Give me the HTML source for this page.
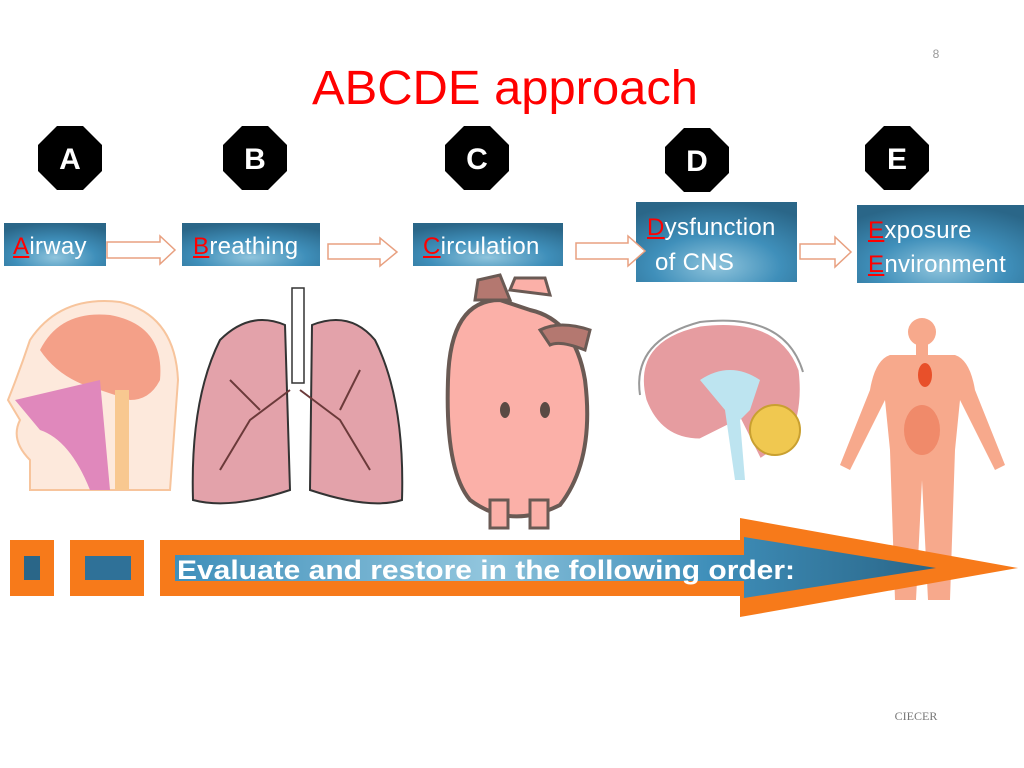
<!DOCTYPE html>
<html><head><meta charset="utf-8"><style>
html,body{margin:0;padding:0;background:#fff}
body{width:1024px;height:768px;position:relative;overflow:hidden;font-family:"Liberation Sans",sans-serif}
.t{position:absolute;color:#fff;font-size:24px;letter-spacing:0.3px}
.r{color:#f00;text-decoration:underline}
</style></head><body>
<svg width="1024" height="768" style="position:absolute;left:0;top:0">
<defs>
<radialGradient id="bg" cx="0.5" cy="0.8" r="0.8">
<stop offset="0" stop-color="#8fc4dc"/><stop offset="0.5" stop-color="#3f8fba"/><stop offset="1" stop-color="#2a6688"/></radialGradient>
<linearGradient id="lg" x1="0" x2="1" y1="0" y2="0">
<stop offset="0" stop-color="#3f8fba"/><stop offset="0.4" stop-color="#8fc4dc"/><stop offset="0.7" stop-color="#3f8fba"/><stop offset="1" stop-color="#2a6688"/></linearGradient>
</defs>
<text x="505" y="104" text-anchor="middle" font-size="48" fill="#f00" font-family="Liberation Sans" textLength="386" lengthAdjust="spacingAndGlyphs">ABCDE approach</text>
<text x="936" y="58" text-anchor="middle" font-size="12" fill="#999" font-family="Liberation Sans">8</text>
<text x="916" y="720" text-anchor="middle" font-size="12" fill="#777" font-family="Liberation Serif">CIECER</text>
<g font-family="Liberation Sans" font-size="30" font-weight="bold" fill="#fff" text-anchor="middle">
<polygon points="57,126 83,126 102,145 102,171 83,190 57,190 38,171 38,145" fill="#000"/><text x="70" y="169">A</text>
<polygon points="242,126 268,126 287,145 287,171 268,190 242,190 223,171 223,145" fill="#000"/><text x="255" y="169">B</text>
<polygon points="464,126 490,126 509,145 509,171 490,190 464,190 445,171 445,145" fill="#000"/><text x="477" y="169">C</text>
<polygon points="684,128 710,128 729,147 729,173 710,192 684,192 665,173 665,147" fill="#000"/><text x="697" y="171">D</text>
<polygon points="884,126 910,126 929,145 929,171 910,190 884,190 865,171 865,145" fill="#000"/><text x="897" y="169">E</text>
</g>
<rect x="4" y="223" width="102" height="43" fill="url(#bg)"/>
<rect x="182" y="223" width="138" height="43" fill="url(#bg)"/>
<rect x="413" y="223" width="150" height="43" fill="url(#bg)"/>
<rect x="636" y="202" width="161" height="80" fill="url(#bg)"/>
<rect x="857" y="205" width="167" height="78" fill="url(#bg)"/>
<g fill="#fff" stroke="#e8a080" stroke-width="1.5">
<polygon points="107,242 160,242 160,236 175,250 160,264 160,258 107,258"/>
<polygon points="328,244 380,244 380,238 397,252 380,266 380,259 328,259"/>
<polygon points="576,243 628,243 628,236 645,251 628,266 628,259 576,259"/>
<polygon points="800,244 835,244 835,237 851,252 835,267 835,259 800,259"/>
</g>
<!-- head -->
<path d="M30,490 L30,460 Q10,440 20,420 L8,400 Q20,370 30,340 Q60,295 120,302 Q175,315 178,380 L170,490 Z" fill="#fde9dc" stroke="#f7c49c" stroke-width="2"/>
<path d="M40,350 Q60,310 110,315 Q165,325 160,380 Q150,400 130,400 L100,390 Q60,380 40,350Z" fill="#f4a088"/>
<path d="M15,400 L100,380 L110,490 L90,490 Q70,440 40,430 Z" fill="#e088bc"/>
<rect x="115" y="390" width="14" height="100" fill="#f8c890"/>
<!-- lungs -->
<path d="M285,325 Q250,310 220,340 Q190,400 193,500 Q230,510 290,490 Z" fill="#e3a2aa" stroke="#333" stroke-width="2"/>
<path d="M312,325 Q350,310 375,340 Q405,400 402,500 Q370,510 310,490 Z" fill="#e3a2aa" stroke="#333" stroke-width="2"/>
<rect x="292" y="288" width="12" height="95" fill="#fff" stroke="#333" stroke-width="1.5"/>
<g stroke="#6b3a3a" stroke-width="2" fill="none">
<path d="M290,390 L250,420 L220,470 M260,410 L230,380 M300,390 L340,420 L370,470 M340,410 L360,370"/>
</g>
<!-- heart -->
<path d="M500,300 Q450,300 448,380 Q445,470 470,500 Q510,530 560,505 Q595,460 585,380 Q575,320 530,310 Z" fill="#fbb0a8" stroke="#6a5a54" stroke-width="4"/>
<path d="M475,300 L478,280 L500,275 L510,300 Z" fill="#b47870" stroke="#6a5a54" stroke-width="3"/>
<path d="M510,290 L515,278 L545,278 L550,295 Z" fill="#fbb0a8" stroke="#6a5a54" stroke-width="3"/>
<path d="M540,330 Q560,320 590,330 L585,350 Q560,340 550,345Z" fill="#b47870" stroke="#6a5a54" stroke-width="3"/>
<rect x="490" y="500" width="18" height="28" fill="#fbb0a8" stroke="#6a5a54" stroke-width="3"/>
<rect x="530" y="500" width="18" height="28" fill="#fbb0a8" stroke="#6a5a54" stroke-width="3"/>
<ellipse cx="505" cy="410" rx="5" ry="8" fill="#5a4a44"/><ellipse cx="545" cy="410" rx="5" ry="8" fill="#5a4a44"/>
<!-- brain -->
<path d="M645,400 Q630,340 700,325 Q780,315 800,370 Q805,410 790,440 L760,460 L740,420 L700,440 Q660,440 645,400Z" fill="#e69ca0" stroke="#fff" stroke-width="3"/>
<path d="M640,395 Q632,340 700,322 Q785,312 803,372" fill="none" stroke="#999" stroke-width="2"/>
<path d="M700,380 Q730,360 760,380 L750,410 L740,420 L745,480 L735,480 L725,410Z" fill="#bde4f0"/>
<circle cx="775" cy="430" r="25" fill="#f0c850" stroke="#c9a030" stroke-width="2"/>
<!-- body -->
<g fill="#f7a98c">
<circle cx="922" cy="332" r="14"/>
<rect x="916" y="342" width="12" height="14"/>
<path d="M890,355 L955,355 Q970,360 975,390 L1005,465 L995,470 L960,400 L955,450 L950,600 L928,600 L922,480 L916,600 L895,600 L890,450 L885,400 L850,470 L840,465 L870,390 Q875,360 890,355Z"/>
</g>
<ellipse cx="922" cy="430" rx="18" ry="25" fill="#f08a6a"/>
<ellipse cx="925" cy="375" rx="7" ry="12" fill="#e8502a"/>
<!-- bottom arrow -->
<rect x="10" y="540" width="44" height="56" fill="#f77a1a"/>
<rect x="24" y="556" width="16" height="24" fill="#2a6688"/>
<rect x="70" y="540" width="74" height="56" fill="#f77a1a"/>
<rect x="85" y="556" width="46" height="24" fill="#2f7198"/>
<polygon points="160,540 740,540 740,518 1018,568 740,617 740,596 160,596" fill="#f77a1a"/>
<polygon points="175,555 744,555 744,537 936,568 744,598 744,581 175,581" fill="url(#lg)"/>
<text x="177" y="579" font-family="Liberation Sans" font-size="27" font-weight="bold" fill="#fff" textLength="618" lengthAdjust="spacingAndGlyphs">Evaluate and restore in the following order:</text>
</svg>
<div class="t" style="left:13px;top:233px"><span class="r">A</span>irway</div>
<div class="t" style="left:193px;top:233px"><span class="r">B</span>reathing</div>
<div class="t" style="left:423px;top:233px"><span class="r">C</span>irculation</div>
<div class="t" style="left:647px;top:214px"><span class="r">D</span>ysfunction</div>
<div class="t" style="left:655px;top:249px">of CNS</div>
<div class="t" style="left:868px;top:217px"><span class="r">E</span>xposure</div>
<div class="t" style="left:868px;top:251px"><span class="r">E</span>nvironment</div>
</body></html>
